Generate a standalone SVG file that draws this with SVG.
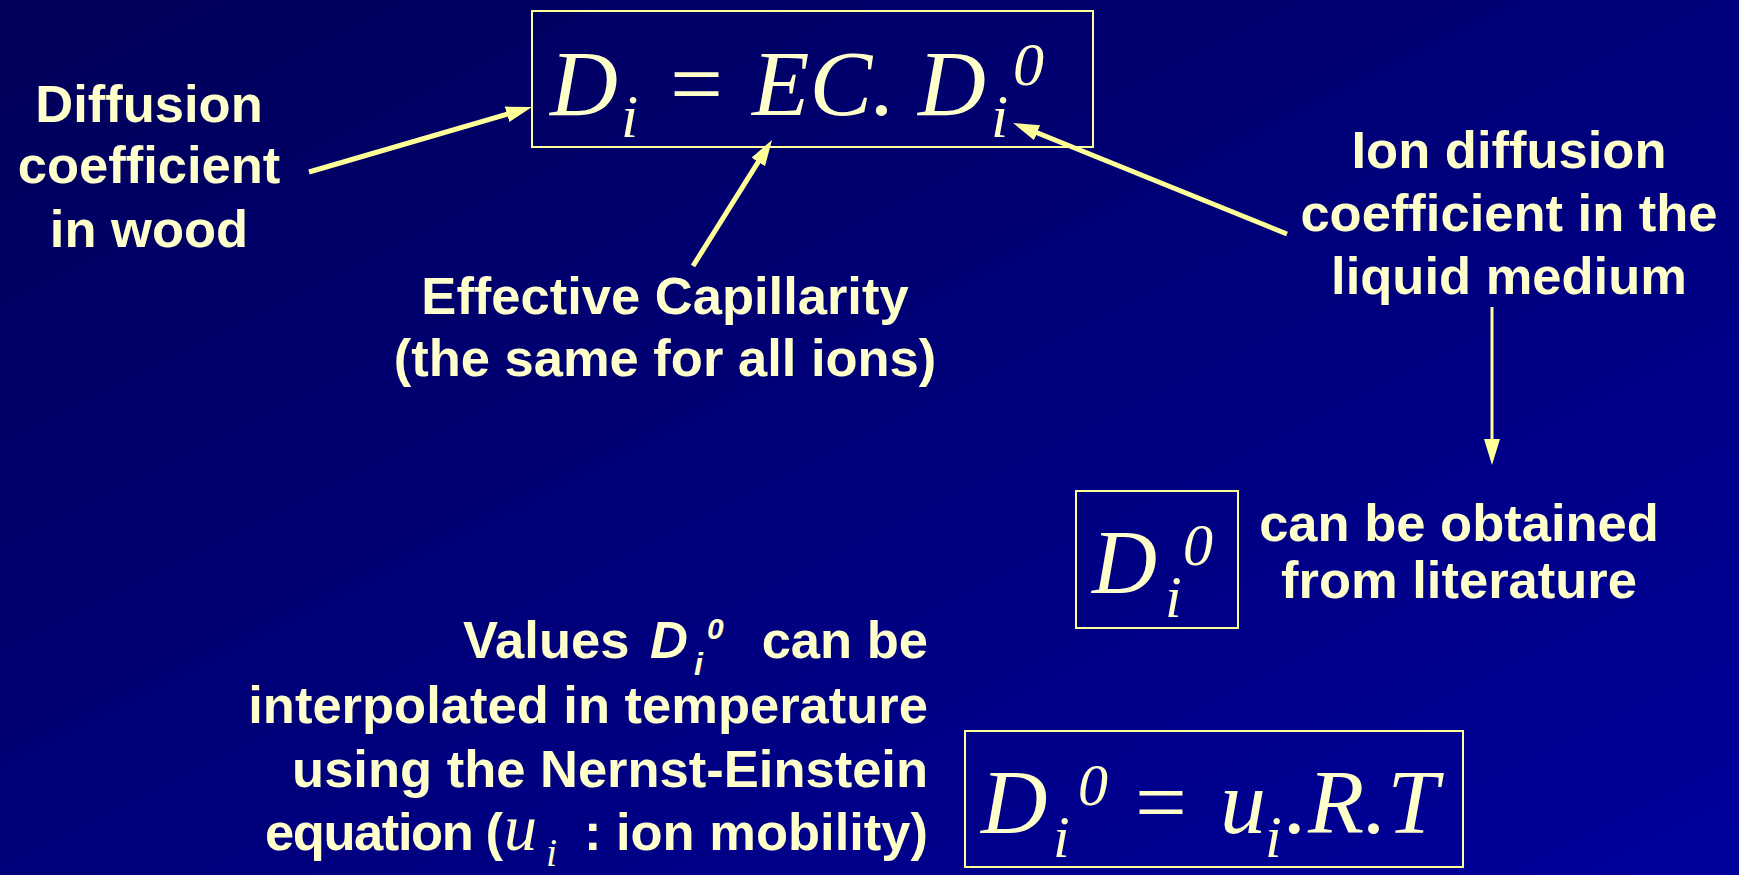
<svg xmlns="http://www.w3.org/2000/svg" width="1739" height="875" viewBox="0 0 1739 875">
<style>
.lbl{font-family:"Liberation Sans",Arial,sans-serif;font-weight:bold;font-size:52.5px;fill:#FFFFCC}
.mid{text-anchor:middle}
.end{text-anchor:end}
.m{font-family:"Liberation Serif","Times New Roman",serif;font-style:italic;fill:#FFFFCC}
.box{fill:none;stroke:#FFFF99;stroke-width:2}
.arr{stroke:#FFFF99;fill:none}
</style>
<defs>
<linearGradient id="bg" x1="0" y1="0" x2="1" y2="1">
<stop offset="0" stop-color="#000058"/>
<stop offset="1" stop-color="#00009C"/>
</linearGradient>
<marker id="ah" markerUnits="userSpaceOnUse" markerWidth="26" markerHeight="16" refX="6" refY="8" orient="auto" viewBox="0 0 26 16">
<path d="M0,0 L26,8 L0,16 z" fill="#FFFF99"/>
</marker>
</defs>
<rect width="1739" height="875" fill="url(#bg)"/>

<g id="eq-main">
<rect class="box" x="532" y="11" width="561" height="136"/>
<text class="m" x="550" y="115" font-size="94">D</text>
<text class="m" x="621" y="137" font-size="62">i</text>
<text class="m" x="670" y="115" font-size="94" style="font-style:normal">=</text>
<text class="m" x="752" y="115" font-size="94">EC.</text>
<text class="m" x="918" y="115" font-size="94">D</text>
<text class="m" x="991" y="137" font-size="62">i</text>
<text class="m" x="1013" y="85" font-size="62">0</text>
</g>

<g id="label-wood">
<text class="lbl mid" x="149" y="122">Diffusion</text>
<text class="lbl mid" x="149" y="183">coefficient</text>
<text class="lbl mid" x="149" y="247">in wood</text>
</g>

<g id="label-ec">
<text class="lbl mid" x="665" y="314">Effective Capillarity</text>
<text class="lbl mid" x="665" y="376">(the same for all ions)</text>
</g>

<g id="label-ion">
<text class="lbl mid" x="1509" y="168">Ion diffusion</text>
<text class="lbl mid" x="1509" y="231">coefficient in the</text>
<text class="lbl mid" x="1509" y="294">liquid medium</text>
</g>

<g id="eq-d0">
<rect class="box" x="1076" y="491" width="162" height="137"/>
<text class="m" x="1092" y="593" font-size="90">D</text>
<text class="m" x="1165" y="617" font-size="60">i</text>
<text class="m" x="1183" y="565" font-size="60">0</text>
</g>

<g id="label-lit">
<text class="lbl mid" x="1459" y="541">can be obtained</text>
<text class="lbl mid" x="1459" y="598">from literature</text>
</g>

<g id="label-values">
<text class="lbl" x="463" y="658">Values</text>
<text class="lbl" x="650" y="658" style="font-style:italic">D</text>
<text class="lbl" x="694" y="675" style="font-style:italic;font-size:32px">i</text>
<text class="lbl" x="707" y="639" style="font-style:italic;font-size:30px">0</text>
<text class="lbl end" x="928" y="658">can be</text>
<text class="lbl end" x="928" y="723">interpolated in temperature</text>
<text class="lbl end" x="928" y="787">using the Nernst-Einstein</text>
<text class="lbl" x="265" y="850" textLength="238">equation (</text>
<text class="m" x="504" y="850" font-size="66">u</text>
<text class="m" x="546" y="866" font-size="40">i</text>
<text class="lbl end" x="928" y="850">: ion mobility)</text>
</g>

<g id="eq-nernst">
<rect class="box" x="965" y="731" width="498" height="136"/>
<text class="m" x="981" y="833" font-size="92">D</text>
<text class="m" x="1053" y="857" font-size="60">i</text>
<text class="m" x="1078" y="805" font-size="60">0</text>
<text class="m" x="1135" y="833" font-size="92" style="font-style:normal">=</text>
<text class="m" x="1220" y="833" font-size="92">u</text>
<text class="m" x="1265" y="857" font-size="60">i</text>
<text class="m" x="1285" y="833" font-size="92">.R.T</text>
</g>

<g id="connectors">
<line class="arr" x1="309" y1="172" x2="512.8" y2="112.6" stroke-width="5" marker-end="url(#ah)"/>
<line class="arr" x1="693" y1="266" x2="761.4" y2="156.9" stroke-width="5" marker-end="url(#ah)"/>
<line class="arr" x1="1287" y1="234" x2="1031.5" y2="130.5" stroke-width="5" marker-end="url(#ah)"/>
<line class="arr" x1="1492" y1="307" x2="1492" y2="445" stroke-width="3" marker-end="url(#ah)"/>
</g>
</svg>
